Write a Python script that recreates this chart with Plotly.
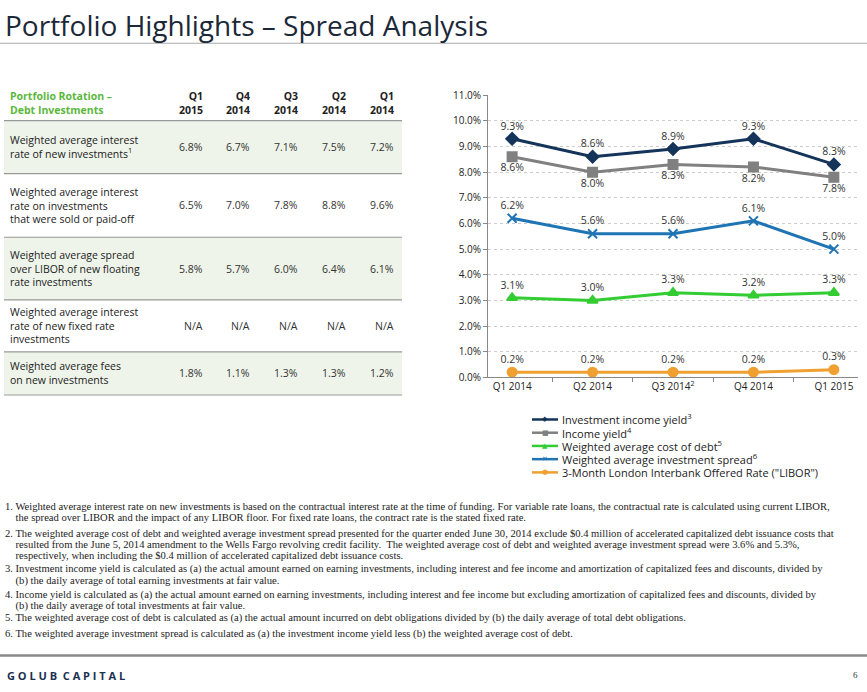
import plotly.graph_objects as go

W, H = 867, 692
quarters = ["Q1 2014", "Q2 2014", "Q3 2014<sup>2</sup>", "Q4 2014", "Q1 2015"]
inv_yield = [9.3, 8.6, 8.9, 9.3, 8.3]
inc_yield = [8.6, 8.0, 8.3, 8.2, 7.8]
cost_debt = [3.1, 3.0, 3.3, 3.2, 3.3]
inv_spread = [6.2, 5.6, 5.6, 6.1, 5.0]
libor = [0.2, 0.2, 0.2, 0.2, 0.3]

tbl_cols = [["Q1", "2015"], ["Q4", "2014"], ["Q3", "2014"], ["Q2", "2014"], ["Q1", "2014"]]
tbl_rows = [
    ["Weighted average interest", "rate of new investments<sup>1</sup>"],
    ["Weighted average interest", "rate on investments", "that were sold or paid-off"],
    ["Weighted average spread", "over LIBOR of new floating", "rate investments"],
    ["Weighted average interest", "rate of new fixed rate", "investments"],
    ["Weighted average fees", "on new investments"],
]
tbl_vals = [
    ["6.8%", "6.7%", "7.1%", "7.5%", "7.2%"],
    ["6.5%", "7.0%", "7.8%", "8.8%", "9.6%"],
    ["5.8%", "5.7%", "6.0%", "6.4%", "6.1%"],
    ["N/A", "N/A", "N/A", "N/A", "N/A"],
    ["1.8%", "1.1%", "1.3%", "1.3%", "1.2%"],
]
footnotes = [
    ["1. Weighted average interest rate on new investments is based on the contractual interest rate at the time of funding. For variable rate loans, the contractual rate is calculated using current LIBOR,",
     "    the spread over LIBOR and the impact of any LIBOR floor. For fixed rate loans, the contract rate is the stated fixed rate."],
    ["2. The weighted average cost of debt and weighted average investment spread presented for the quarter ended June 30, 2014 exclude $0.4 million of accelerated capitalized debt issuance costs that",
     "    resulted from the June 5, 2014 amendment to the Wells Fargo revolving credit facility.  The weighted average cost of debt and weighted average investment spread were 3.6% and 5.3%,",
     "    respectively, when including the $0.4 million of accelerated capitalized debt issuance costs."],
    ["3. Investment income yield is calculated as (a) the actual amount earned on earning investments, including interest and fee income and amortization of capitalized fees and discounts, divided by",
     "    (b) the daily average of total earning investments at fair value."],
    ["4. Income yield is calculated as (a) the actual amount earned on earning investments, including interest and fee income but excluding amortization of capitalized fees and discounts, divided by",
     "    (b) the daily average of total investments at fair value."],
    ["5. The weighted average cost of debt is calculated as (a) the actual amount incurred on debt obligations divided by (b) the daily average of total debt obligations."],
    ["6. The weighted average investment spread is calculated as (a) the investment income yield less (b) the weighted average cost of debt."],
]

def px(x): return x / W
def py(y): return 1 - y / H

fig = go.Figure()
series = [
    ("Investment income yield<sup>3</sup>", inv_yield, "#14345a", "diamond", "top center", "◆"),
    ("Income yield<sup>4</sup>", inc_yield, "#808080", "square", "bottom center", "■"),
    ("Weighted average cost of debt<sup>5</sup>", cost_debt, "#33cc33", "triangle-up", "top center", "▲"),
    ("Weighted average investment spread<sup>6</sup>", inv_spread, "#1f74b4", "x-thin", "top center", "✕"),
    ('3-Month London Interbank Offered Rate ("LIBOR")', libor, "#f0a030", "circle", "top center", "●"),
]
for name, vals, col, sym, tp, g in series:
    fig.add_trace(go.Scatter(
        x=quarters, y=vals, name=name, mode="lines+markers+text",
        line=dict(color=col, width=3),
        marker=dict(symbol=sym, size=9, color=col, line=dict(color=col, width=2)),
        text=[f"{v:.1f}%" for v in vals], textposition=tp,
        textfont=dict(size=10.5, color="#333333", family="Open Sans"),
    ))

fig.update_layout(
    width=W, height=H, margin=dict(l=0, r=0, t=0, b=0),
    paper_bgcolor="white", plot_bgcolor="white",
    font=dict(family="Open Sans", color="#333333"),
    xaxis=dict(domain=[px(488), px(858)], showgrid=False, showline=True, linecolor="#888",
               ticks="outside", tickson="boundaries", tickcolor="#888", ticklen=4,
               tickfont=dict(size=10, color="#222")),
    yaxis=dict(domain=[py(378), py(90)], range=[0, 11], dtick=1, ticksuffix="%", tickformat=".1f",
               showgrid=True, gridcolor="#cccccc", griddash="dot", showline=True, linecolor="#888",
               ticks="outside", tickcolor="#888", ticklen=4, tickfont=dict(size=10, color="#222"),
               zeroline=False),
    showlegend=False,
)

shapes, ann = [], []
for i, (name, vals, col, sym, tp, g) in enumerate(series):
    y = 421 + i * 13.5
    shapes.append(dict(type="line", xref="paper", yref="paper", x0=px(532), x1=px(558), y0=py(y), y1=py(y),
                       line=dict(color=col, width=2.5)))
    ann.append(dict(x=px(545), y=py(y), xref="paper", yref="paper", xanchor="center", yanchor="middle",
                    text=g, showarrow=False, font=dict(size=7, color=col, family="DejaVu Sans")))
    ann.append(dict(x=px(560), y=py(y), xref="paper", yref="paper", xanchor="left", yanchor="middle",
                    text=name, showarrow=False, font=dict(size=11, color="#222")))

ann.append(dict(x=px(3), y=py(18), xref="paper", yref="paper", xanchor="left", yanchor="middle",
                text="Portfolio Highlights – Spread Analysis", showarrow=False,
                font=dict(size=28, color="#1b2838", family="Open Sans")))
shapes.append(dict(type="line", xref="paper", yref="paper", x0=0, x1=1, y0=py(37), y1=py(37),
                   line=dict(color="#aaaaaa", width=1)))
green = "#5cb83c"
ann.append(dict(x=px(8), y=py(98), xref="paper", yref="paper", xanchor="left", yanchor="middle",
                text="<b>Portfolio Rotation –<br>Debt Investments</b>", align="left", showarrow=False,
                font=dict(size=10.5, color=green, family="Open Sans")))
colx = [205, 252, 300, 348, 396]
for cx, lines in zip(colx, tbl_cols):
    ann.append(dict(x=px(cx), y=py(98), xref="paper", yref="paper", xanchor="right", yanchor="middle",
                    text="<b>" + "<br>".join(lines) + "</b>", align="right", showarrow=False,
                    font=dict(size=10.5, color="#222")))
bounds = [116, 170, 235, 299, 352, 396]
shade = [True, False, True, False, True]
for i, (lab, vals) in enumerate(zip(tbl_rows, tbl_vals)):
    y0, y1 = bounds[i], bounds[i + 1]
    if shade[i]:
        shapes.append(dict(type="rect", xref="paper", yref="paper", x0=px(4), x1=px(402),
                           y0=py(y1), y1=py(y0), fillcolor="#eef4ea", line=dict(width=0), layer="below"))
    yc = (y0 + y1) / 2
    ann.append(dict(x=px(8), y=py(yc), xref="paper", yref="paper", xanchor="left", yanchor="middle",
                    text="<br>".join(lab), align="left", showarrow=False,
                    font=dict(size=10.5, color="#222")))
    for cx, v in zip(colx, vals):
        ann.append(dict(x=px(cx), y=py(yc), xref="paper", yref="paper", xanchor="right", yanchor="middle",
                        text=v, showarrow=False, font=dict(size=10.5, color="#333")))
for b in bounds:
    shapes.append(dict(type="line", xref="paper", yref="paper", x0=px(4), x1=px(402), y0=py(b), y1=py(b),
                       line=dict(color="#999999", width=1.2)))
fy = [510, 537, 574, 600, 624, 640]
for y, lines in zip(fy, footnotes):
    for j, line in enumerate(lines):
        ann.append(dict(x=px(3), y=py(y + j * 11.5), xref="paper", yref="paper", xanchor="left",
                        yanchor="middle", text=line, align="left", showarrow=False,
                        font=dict(size=10.6, color="#222", family="Liberation Serif")))
shapes.append(dict(type="line", xref="paper", yref="paper", x0=0, x1=1, y0=py(662), y1=py(662),
                   line=dict(color="#888888", width=2.5)))
ann.append(dict(x=px(5), y=py(682), xref="paper", yref="paper", xanchor="left", yanchor="middle",
                text="<b>G O L U B  C A P I T A L</b>", showarrow=False,
                font=dict(size=11, color="#1b3050", family="Open Sans")))
ann.append(dict(x=px(860), y=py(682), xref="paper", yref="paper", xanchor="right", yanchor="middle",
                text="6", showarrow=False, font=dict(size=9, color="#333", family="Liberation Serif")))

fig.update_layout(shapes=shapes, annotations=ann)
fig.write_html("out.html", config={"displayModeBar": False},
               post_script="document.body.style.margin='0';document.body.style.overflow='hidden';")
